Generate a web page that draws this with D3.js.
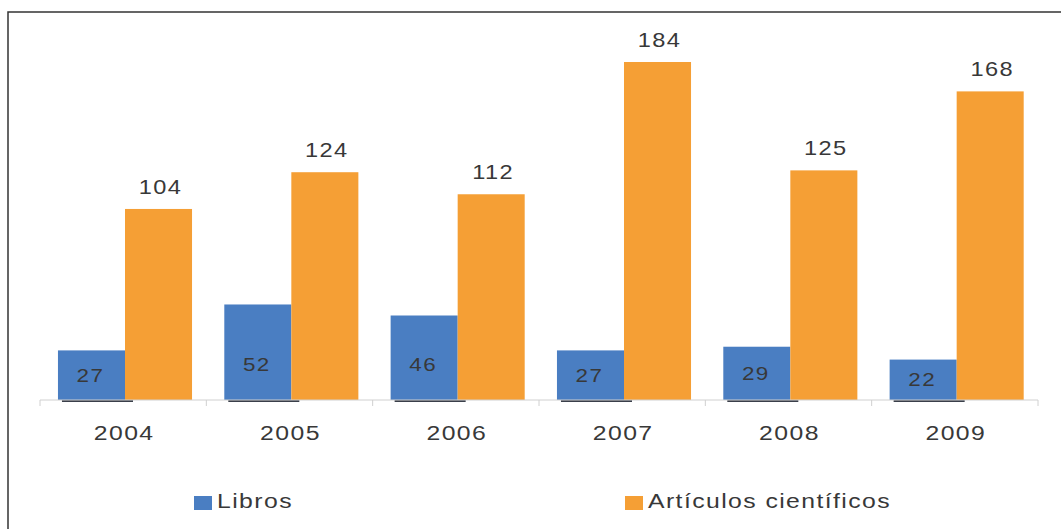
<!DOCTYPE html>
<html>
<head>
<meta charset="utf-8">
<script src="https://cdn.jsdelivr.net/npm/d3@7"></script>
<style>
  body { margin: 0; background: white; }
  svg { display: block; font-family: "Liberation Sans", Arial, sans-serif; }
</style>
</head>
<body>
<div id="chart"></div>
<script>
const years = ['2004', '2005', '2006', '2007', '2008', '2009']
const libros = [27, 52, 46, 27, 29, 22]
const articulos = [104, 124, 112, 184, 125, 168]
const seriesNames = ['Libros', 'Artículos científicos']
const colors = ['#4a7ec2', '#f59f35']

const width = 1061, height = 529
const margin = { top: 62, right: 23, bottom: 129, left: 40 }
const innerW = width - margin.left - margin.right
const innerH = height - margin.top - margin.bottom
const stretch = 1.18 // text in the source is drawn wide
const spacing = 1.2

const svg = d3.select('#chart').append('svg')
    .attr('width', width)
    .attr('height', height)

// frame (top + left only)
svg.append('path')
    .attr('d', `M8,${height} V12 H${width}`)
    .attr('fill', 'none')
    .attr('stroke', '#333')
    .attr('stroke-width', 1.5)

const g = svg.append('g')
    .attr('transform', `translate(${margin.left},${margin.top})`)

const x0 = d3.scaleBand().domain(years).range([0, innerW]).paddingInner(0).paddingOuter(0)
const x1 = d3.scaleBand().domain(['libros', 'articulos'])
    .range([x0.bandwidth() * 0.108, x0.bandwidth() * 0.914])
const y = d3.scaleLinear().domain([0, 184]).range([innerH, 0])

const rows = years.map((yr, i) => ({ year: yr, libros: libros[i], articulos: articulos[i] }))

const groups = g.selectAll('.year')
    .data(rows)
    .enter().append('g')
    .attr('class', 'year')
    .attr('transform', d => `translate(${x0(d.year)},0)`)

// blue bars
groups.append('rect')
    .attr('x', x1('libros'))
    .attr('y', d => y(d.libros))
    .attr('width', x1.bandwidth())
    .attr('height', d => innerH - y(d.libros))
    .attr('fill', colors[0])

// dark shadow line under blue bars
groups.append('line')
    .attr('x1', x1('libros') + 4)
    .attr('x2', x1('libros') + x1.bandwidth() + 8)
    .attr('y1', innerH + 1)
    .attr('y2', innerH + 1)
    .attr('stroke', '#3a3f4a')
    .attr('stroke-width', 2)

// orange bars
groups.append('rect')
    .attr('x', x1('articulos'))
    .attr('y', d => y(d.articulos))
    .attr('width', x1.bandwidth())
    .attr('height', d => innerH - y(d.articulos))
    .attr('fill', colors[1])

// labels inside blue bars
groups.append('text')
    .attr('transform', d => `translate(${x1('libros') + x1.bandwidth() / 2 - 1},${innerH - Math.min((innerH - y(d.libros)) / 2, 36)}) scale(${stretch},1)`)
    .attr('dy', '0.35em')
    .attr('text-anchor', 'middle')
    .attr('font-size', 19)
    .attr('letter-spacing', spacing)
    .attr('fill', '#383838')
    .text(d => d.libros)

// labels above orange bars
groups.append('text')
    .attr('transform', d => `translate(${x1('articulos') + x1.bandwidth() / 2 + 2},${y(d.articulos) - 15}) scale(${stretch},1)`)
    .attr('text-anchor', 'middle')
    .attr('font-size', 20)
    .attr('letter-spacing', spacing)
    .attr('fill', '#383838')
    .text(d => d.articulos)

// x axis
const xAxis = g.append('g')
    .attr('transform', `translate(0,${innerH})`)
xAxis.append('line')
    .attr('x1', 0).attr('x2', innerW)
    .attr('stroke', '#d0d0d0')
xAxis.selectAll('.tick-mark')
    .data(d3.range(years.length + 1))
    .enter().append('line')
    .attr('x1', i => i * x0.step())
    .attr('x2', i => i * x0.step())
    .attr('y1', 0).attr('y2', 6)
    .attr('stroke', '#d0d0d0')
xAxis.selectAll('.tick-label')
    .data(years)
    .enter().append('text')
    .attr('transform', d => `translate(${x0(d) + x0.bandwidth() / 2 + 1},40) scale(${stretch},1)`)
    .attr('text-anchor', 'middle')
    .attr('font-size', 21)
    .attr('letter-spacing', spacing)
    .attr('fill', '#383838')
    .text(d => d)

// legend
const legendX = [194, 625]
const legend = svg.selectAll('.legend')
    .data(seriesNames)
    .enter().append('g')
    .attr('transform', (d, i) => `translate(${legendX[i]},496)`)
legend.append('rect')
    .attr('width', 18).attr('height', 14)
    .attr('fill', (d, i) => colors[i])
legend.append('text')
    .attr('transform', `translate(23,12) scale(${stretch},1)`)
    .attr('font-size', 21)
    .attr('letter-spacing', spacing)
    .attr('fill', '#383838')
    .text(d => d)
</script>
</body>
</html>
